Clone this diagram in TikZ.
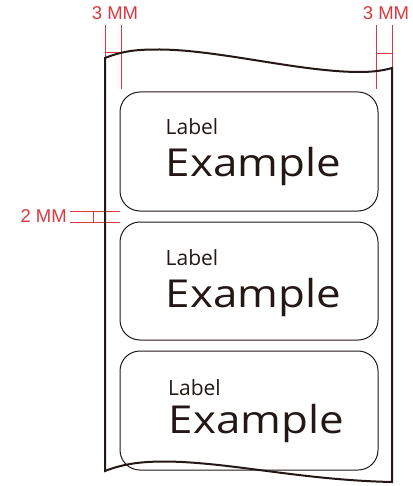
\documentclass[tikz,border=0pt]{standalone}
\usepackage{fontspec}
\setmainfont{Open Sans}
\newfontfamily\dimfont{Liberation Sans}
\definecolor{ink}{HTML}{231815}
\definecolor{dimred}{HTML}{D9393F}
\begin{document}
\begin{tikzpicture}[x=1bp,y=-1bp,
  labelbox/.style={draw=ink, line width=1bp, rounded corners=20bp, minimum width=258bp, inner sep=0pt},
  smalltxt/.style={anchor=base west, inner sep=0pt, text=ink, font=\fontsize{21bp}{24bp}\selectfont},
  bigtxt/.style={anchor=base west, inner sep=0pt, text=ink, font=\fontsize{38.5bp}{44bp}\selectfont},
  dimline/.style={draw=dimred, line width=0.9bp},
  dimtxt/.style={text=dimred, inner sep=0pt, font=\dimfont\fontsize{18.5bp}{20bp}\selectfont},
  tape/.style={draw=ink, line width=2bp, line join=miter}
]
\useasboundingbox (0,0) rectangle (412,486);

% dimension marks
\draw[dimline] (105,25) -- (105,89);
\draw[dimline] (121,25) -- (121,89);
\draw[dimline] (105,52) -- (121,52);
\node[dimtxt, anchor=base] (d1) at (115,20) {3 MM};
\draw[dimline] (376,25) -- (376,89);
\draw[dimline] (392,25) -- (392,89);
\draw[dimline] (376,53) -- (392,53);
\node[dimtxt, anchor=base] (d2) at (386,20) {3 MM};
\draw[dimline] (70,211) -- (120,211);
\draw[dimline] (70,222) -- (120,222);
\draw[dimline] (93,211) -- (93,222);
\node[dimtxt, anchor=base east] (d3) at (67,222.5) {2 MM};

% tape
\draw[tape] (105,471) -- (105,58)
  .. controls (125,50) and (140,49.5) .. (160,49.5)
  .. controls (220,50) and (300,72) .. (360,72)
  .. controls (375,72) and (385,70) .. (392,68)
  -- (392,482)
  .. controls (300,480) and (230,462) .. (165,461.5)
  .. controls (145,461.5) and (125,463) .. (105,471) -- cycle;

% labels
\node[labelbox, minimum height=119bp] (b1) at (249,151.5) {};
\node[labelbox, minimum height=118bp] (b2) at (249,281) {};
\node[labelbox, minimum height=119bp] (b3) at (249,410.5) {};

\node[smalltxt] (l1) at (165.5,135) {Label};
\node[bigtxt] (e1) at (165.5,177) {\scalebox{1.14}[1]{Example}};
\node[smalltxt] (l2) at (165.5,265) {Label};
\node[bigtxt] (e2) at (165.5,307) {\scalebox{1.14}[1]{Example}};
\node[smalltxt] (l3) at (168,395) {Label};
\node[bigtxt] (e3) at (168.5,433) {\scalebox{1.14}[1]{Example}};
\end{tikzpicture}
\end{document}
